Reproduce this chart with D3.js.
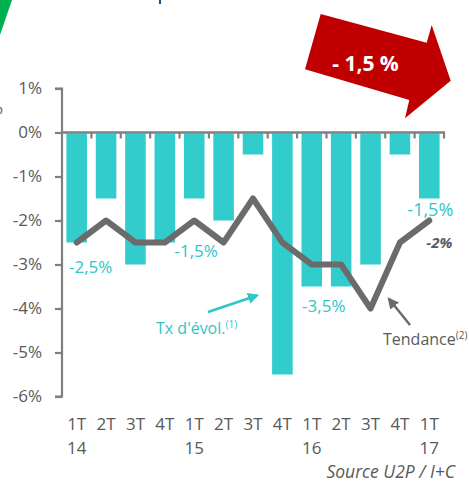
<!DOCTYPE html>
<html><head><meta charset="utf-8">
<script src="https://cdn.jsdelivr.net/npm/d3@7"></script>
<style>
html,body{margin:0;padding:0;background:#fff;}
svg{display:block;font-family:"Open Sans",sans-serif;}
</style></head>
<body>
<svg id="c" width="469" height="482"></svg>
<script>
const quarters = ["1T","2T","3T","4T","1T","2T","3T","4T","1T","2T","3T","4T","1T"];
const years    = ["14","","","","15","","","","16","","","","17"];
const categories = quarters.map((q,i)=>q+"-"+i);
const evolution = [-2.5,-1.5,-3,-2.5,-1.5,-2,-0.5,-5.5,-3.5,-3.5,-3,-0.5,-1.5];
const trend     = [-2.5,-2,-2.5,-2.5,-2,-2.5,-1.5,-2.5,-3,-3,-4,-2.5,-2];
const yTicks = [1,0,-1,-2,-3,-4,-5,-6];
const barLabels = [
  {i:0,  v:-2.5, text:"-2,5%", dx:14, dy:30, size:17},
  {i:4,  v:-1.5, text:"-1,5%", dx:2,  dy:58, size:17},
  {i:8,  v:-3.5, text:"-3,5%", dx:12, dy:25.5, size:17},
  {i:12, v:-1.5, text:"-1,5%", dx:1,  dy:17.5, size:18}
];
const trendLabel = {i:12, v:-2, text:"-2%"};
const badge = "- 1,5 %";
const source = "Source U2P / I+C";

const TURQ = "#33CCCC", TURQ_TXT = "#2EC6C6", GRAY = "#7F7F7F", LINE = "#6B6B6B", TXT = "#595959";

const svg = d3.select("#c");
const x = d3.scaleBand().domain(categories).range([62,444]).paddingInner(0.3).paddingOuter(0.15);
const y = d3.scaleLinear().domain([1,-6]).range([88.5,396.5]);
const cx = i => x(categories[i]) + x.bandwidth()/2;

// decorative fragments at top-left
svg.append("polygon").attr("points","-6,0 12,0 0,35").attr("fill","#00B050");
svg.append("rect").attr("x",159).attr("y",0).attr("width",2).attr("height",4).attr("fill","#1F4E79");
svg.append("text").attr("x",3).attr("y",114).attr("text-anchor","end")
  .attr("font-size",17).attr("fill",TXT).text("%");

// red arrow badge
svg.append("polygon")
  .attr("points","320.7,14 426.7,42.7 431.7,25 450.7,80.7 405,118.3 409.3,100 305,69.3")
  .attr("fill","#C00000");
svg.append("text").attr("x",365.5).attr("y",70.5).attr("text-anchor","middle")
  .attr("font-size",21).attr("font-weight","bold").attr("fill","#fff").text(badge);

// bars
svg.append("g").selectAll("rect").data(evolution).join("rect")
  .attr("x",(d,i)=>x(categories[i])).attr("width",x.bandwidth())
  .attr("y",y(0)+1).attr("height",d=>y(d)-y(0)-1)
  .attr("fill",TURQ);

// y axis
const yAxis = d3.axisLeft(y).tickValues(yTicks).tickSize(7).tickPadding(13)
  .tickFormat(d=>d+"%");
const gy = svg.append("g").attr("transform","translate(62,0)").call(yAxis);
gy.select(".domain").attr("stroke",GRAY).attr("stroke-width",2.2).attr("d","M-7,88.5H0V396.5H-7");
gy.selectAll(".tick line").attr("stroke",GRAY).attr("stroke-width",2.2);
gy.selectAll(".tick text").attr("fill",TXT).attr("font-size",17).attr("font-family","Open Sans");

// x axis line at 0 with boundary ticks
const gx = svg.append("g");
gx.append("line").attr("x1",62).attr("x2",445).attr("y1",y(0)).attr("y2",y(0))
  .attr("stroke",GRAY).attr("stroke-width",2.4);
gx.selectAll("line.t").data(categories).join("line").attr("class","t")
  .attr("x1",(d,i)=>x(d)+x.bandwidth()+x.step()*0.15).attr("x2",(d,i)=>x(d)+x.bandwidth()+x.step()*0.15)
  .attr("y1",y(0)).attr("y2",y(0)+6).attr("stroke",GRAY).attr("stroke-width",2.2);

// trend line
svg.append("path").datum(trend)
  .attr("d",d3.line().x((d,i)=>cx(i)).y(d=>y(d)))
  .attr("fill","none").attr("stroke",LINE).attr("stroke-width",6)
  .attr("stroke-linejoin","round").attr("stroke-linecap","round");

// category labels
const gl = svg.append("g").attr("fill",TXT).attr("font-size",17).attr("text-anchor","middle");
gl.selectAll("text.q").data(quarters).join("text").attr("class","q")
  .attr("x",(d,i)=>cx(i)).attr("y",430).text(d=>d);
gl.selectAll("text.yr").data(years).join("text").attr("class","yr")
  .attr("x",(d,i)=>cx(i)).attr("y",454).text(d=>d);

// bar value labels
svg.append("g").selectAll("text").data(barLabels).join("text")
  .attr("x",d=>cx(d.i)+d.dx).attr("y",d=>y(d.v)+d.dy).attr("text-anchor","middle")
  .attr("font-size",d=>d.size).attr("fill",TURQ_TXT).text(d=>d.text);

svg.append("text").attr("x",cx(trendLabel.i)+10).attr("y",y(trendLabel.v)+27.5)
  .attr("text-anchor","middle").attr("font-size",15).attr("font-weight","bold")
  .attr("font-style","italic").attr("fill",TXT).text(trendLabel.text);

// annotations with arrows
const defs = svg.append("defs");
function marker(id,color){
  defs.append("marker").attr("id",id).attr("viewBox","0 0 10 10").attr("refX",8).attr("refY",5)
    .attr("markerWidth",4.5).attr("markerHeight",4.5).attr("orient","auto")
    .append("path").attr("d","M0,0L10,5L0,10z").attr("fill",color);
}
marker("mt",TURQ_TXT); marker("mg",LINE);

svg.append("line").attr("x1",208).attr("y1",312).attr("x2",257).attr("y2",295.5)
  .attr("stroke",TURQ_TXT).attr("stroke-width",2.5).attr("marker-end","url(#mt)");
const t1 = svg.append("text").attr("x",156).attr("y",334).attr("font-size",16).attr("fill",TURQ_TXT);
t1.append("tspan").text("Tx d'évol.");
t1.append("tspan").attr("font-size",10).attr("dy",-6).text("(1)");

svg.append("line").attr("x1",410).attr("y1",325).attr("x2",389).attr("y2",299)
  .attr("stroke",LINE).attr("stroke-width",2.5).attr("marker-end","url(#mg)");
const t2 = svg.append("text").attr("x",383).attr("y",345).attr("font-size",16).attr("fill",TXT);
t2.append("tspan").text("Tendance");
t2.append("tspan").attr("font-size",10).attr("dy",-6).text("(2)");

// source
svg.append("text").attr("x",455).attr("y",477.5).attr("text-anchor","end")
  .attr("font-size",17.5).attr("font-style","italic").attr("fill",TXT).text(source);
</script>
</body></html>
